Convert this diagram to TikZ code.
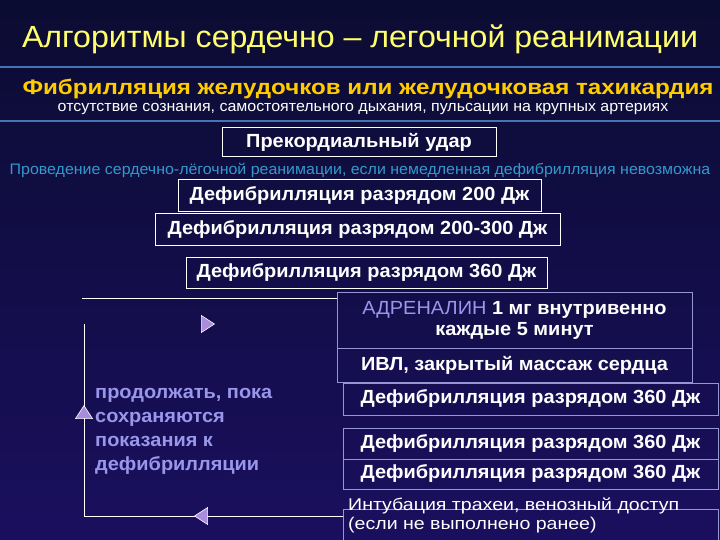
\documentclass[tikz,border=0pt]{standalone}
\usepackage{fontspec}
\setmainfont[FakeStretch=1.05]{Liberation Sans}
\newfontfamily\widefont[FakeStretch=1.15]{Liberation Sans}
\usepackage{tikz}
\usetikzlibrary{shapes.geometric,calc}

\definecolor{bgtop}{RGB}{11,12,50}
\definecolor{bgbottom}{RGB}{26,15,94}
\definecolor{titleyellow}{RGB}{255,255,110}
\definecolor{gold}{RGB}{255,204,0}
\definecolor{rulerblue}{RGB}{70,115,180}
\definecolor{skyblue}{RGB}{51,153,204}
\definecolor{lavender}{RGB}{153,150,235}
\definecolor{boxline}{RGB}{150,150,210}
\definecolor{tipfill}{RGB}{170,140,220}

\begin{document}
\begin{tikzpicture}[x=1pt,y=-1pt,
  whitebox/.style={draw=white,line width=1pt,text=white,inner sep=0pt,
    font=\bfseries\fontsize{19}{21}\selectfont},
  lavbox/.style={whitebox,draw=boxline},
  tipmark/.style={isosceles triangle,isosceles triangle apex angle=70,
    isosceles triangle stretches,fill=tipfill,draw=white,line width=0.6pt,
    inner sep=0pt,minimum width=17pt,minimum height=13pt}]
\useasboundingbox (0,0) rectangle (720,540);
\clip (0,0) rectangle (720,540);
\shade[top color=bgtop,bottom color=bgbottom] (0,0) rectangle (720,540);

% heading
\node[text=titleyellow,font=\fontsize{30.6}{32}\selectfont] (title) at (360,39)
  {Алгоритмы сердечно – легочной реанимации};
\draw[rulerblue,line width=1.2pt] (0,67) -- (720,67);
\node[text=gold,font=\widefont\bfseries\fontsize{21}{23}\selectfont] (rhythm) at (368,89)
  {Фибрилляция желудочков или желудочковая тахикардия};
\node[text=white,font=\fontsize{15.2}{17}\selectfont] (signs) at (363,109)
  {отсутствие сознания, самостоятельного дыхания, пульсации на крупных артериях};
\draw[rulerblue,line width=1.2pt] (0,121) -- (720,121);

% first steps
\node[whitebox,minimum width=274pt,minimum height=29pt] (thump) at (359,142.5) {Прекордиальный удар};
\node[text=skyblue,font=\fontsize{15.2}{17}\selectfont] (cpr) at (360,170.5)
  {Проведение сердечно-лёгочной реанимации, если немедленная дефибрилляция невозможна};
\node[whitebox,minimum width=363pt,minimum height=32pt] (shockA) at (359.5,196) {Дефибрилляция разрядом 200 Дж};
\node[whitebox,minimum width=405pt,minimum height=31pt] (shockB) at (357.5,229.5) {Дефибрилляция разрядом 200-300 Дж};
\node[whitebox,minimum width=361pt,minimum height=31pt] (shockC) at (366.5,272.5) {Дефибрилляция разрядом 360 Дж};

% cycle
\node[lavbox,minimum width=355pt,minimum height=56pt,align=center] (adr) at (514.5,320)
  {{\mdseries\color{lavender}АДРЕНАЛИН} 1 мг внутривенно\\каждые 5 минут};
\node[lavbox,minimum width=355pt,minimum height=34pt] (ivl) at (514.5,365) {ИВЛ, закрытый массаж сердца};
\node[lavbox,minimum width=375pt,minimum height=32pt] (cycleA) at (530.5,399) {Дефибрилляция разрядом 360 Дж};
\node[lavbox,minimum width=375pt,minimum height=31pt] (cycleB) at (530.5,443.5) {Дефибрилляция разрядом 360 Дж};
\node[lavbox,minimum width=375pt,minimum height=30pt] (cycleC) at (530.5,474) {Дефибрилляция разрядом 360 Дж};
\node[lavbox,minimum width=375pt,minimum height=40pt] (intub) at (530.5,529) {};
\node[text=white,font=\widefont\fontsize{17}{19}\selectfont,align=left,anchor=west,inner sep=0pt] (intubtext) at (348,515)
  {Интубация трахеи, венозный доступ\\(если не выполнено ранее)};

% loop back
\coordinate (looptl) at (82,298);
\coordinate (looptop) at (84,324);
\coordinate (loopbl) at (84,516);
\draw[white,line width=1pt] (looptl) -- (looptl -| adr.west);
\draw[white,line width=1pt] (intub.west |- loopbl) -- (loopbl) -- (looptop);
\node[tipmark] (tipright) at (206,324) {};
\node[tipmark,shape border rotate=90] (tipup) at (84,414) {};
\node[tipmark,shape border rotate=180] (tipleft) at (203,516) {};
\node[text=lavender,font=\bfseries\fontsize{19}{24}\selectfont,align=left,anchor=west,inner sep=0pt] (keepgoing) at (95,431)
  {продолжать, пока\\сохраняются\\показания к\\дефибрилляции};
\end{tikzpicture}
\end{document}
